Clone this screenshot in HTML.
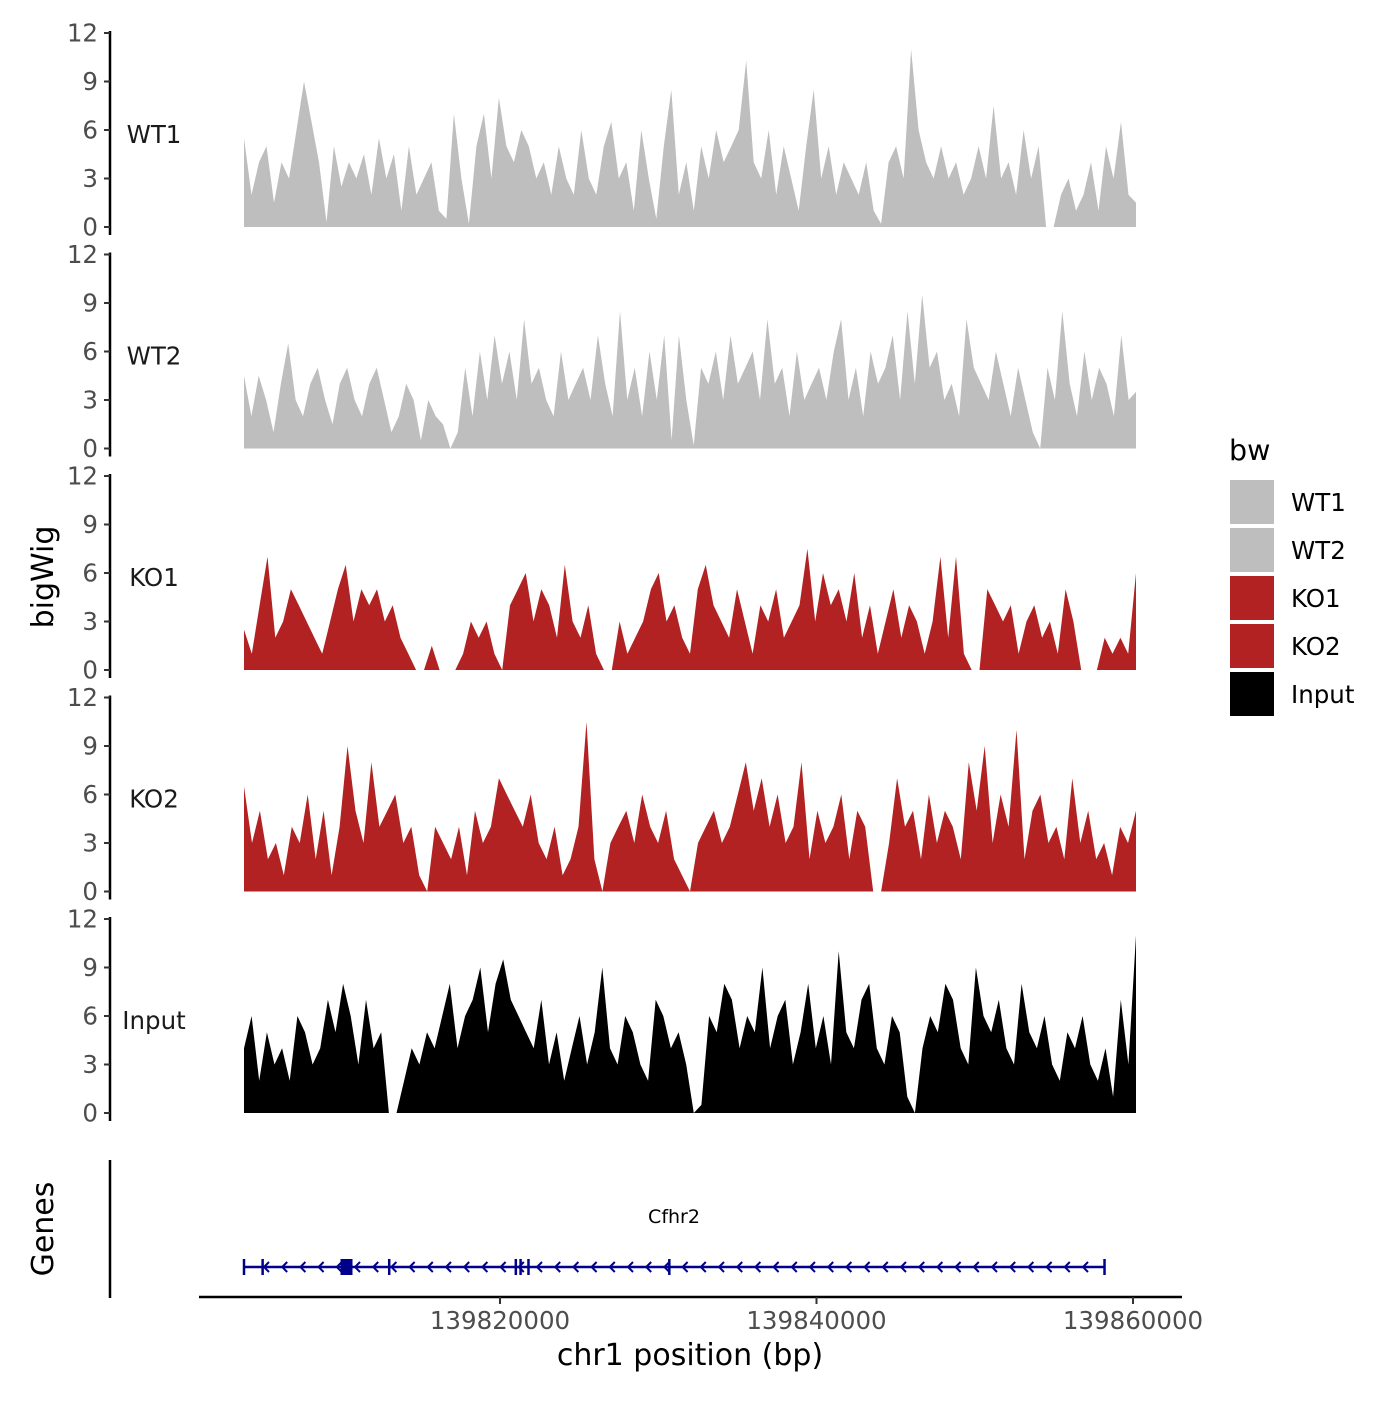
<!DOCTYPE html>
<html><head><meta charset="utf-8"><style>
body{margin:0;background:#fff}
svg text{font-family:"DejaVu Sans","Liberation Sans",sans-serif}
</style></head><body>
<svg id="chart" width="1400" height="1400" xmlns="http://www.w3.org/2000/svg">
<rect width="1400" height="1400" fill="#fff"/>
<g id="panels"></g>
<text x="0" y="0" transform="translate(53,577) rotate(-90)" text-anchor="middle" font-size="30" fill="#000">bigWig</text>
<text x="0" y="0" transform="translate(53,1229) rotate(-90)" text-anchor="middle" font-size="30" fill="#000">Genes</text>
<line x1="110" y1="1160" x2="110" y2="1298" stroke="#000" stroke-width="2.5"/>
<line x1="199" y1="1297" x2="1182" y2="1297" stroke="#000" stroke-width="2.5"/>
<g id="xticks"></g>
<text x="690" y="1365" text-anchor="middle" font-size="30" fill="#000">chr1 position (bp)</text>
<g id="gene"></g>
<g id="legend">
<text x="1229" y="460" font-size="28.5" fill="#000">bw</text>
</g>
</svg>
<script>
const seriesNames = ["WT1","WT2","KO1","KO2","Input"];
const seriesColors = ["#bebebe","#bebebe","#b22222","#b22222","#000000"];
const yTicks = [0,3,6,9,12];
const xTickValues = [139820000,139840000,139860000];
const xStartBp = 139803823, xEndBp = 139860190;
const wt1 = [5.5,2,4,5,1.5,4,3,6,9,6.5,4,0.3,5,2.5,4,3,4.5,2,5.5,3,4.5,1,5,2,3,4,1,0.5,7,3,0.2,5,7,3,8,5,4,6,5,3,4,2,5,3,2,6,3,2,5,6.5,3,4,1,6,3,0.5,5,8.5,2,4,1,5,3,6,4,5,6,10.3,4,3,6,2,5,3,1,5,8.5,3,5,2,4,3,2,4,1,0.2,4,5,3,11,6,4,3,5,3,4,2,3,5,3,7.5,3,4,2,6,3,5,0,0,2,3,1,2,4,1,5,3,6.5,2,1.5];
const wt2 = [4.5,2,4.5,3,1,4,6.5,3,2,4,5,3,1.5,4,5,3,2,4,5,3,1,2,4,3,0.5,3,2,1.5,0,1,5,2,6,3,7,4,6,3,8,4,5,3,2,6,3,4,5,3,7,4,2,8.5,3,5,2,6,3,7,0.5,7,3,0.2,5,4,6,3,7,4,5,6,3,8,4,5,2,6,3,4,5,3,6,8,3,5,2,6,4,5,7,3,8.5,4,9.5,5,6,3,4,2,8,5,4,3,6,4,2,5,3,1,0,5,3,8.5,4,2,6,3,5,4,2,7,3,3.5];
const ko1 = [2.5,1,4,7,2,3,5,4,3,2,1,3,5,6.5,3,5,4,5,3,4,2,1,0,0,1.5,0,0,0,1,3,2,3,1,0,4,5,6,3,5,4,2,6.5,3,2,4,1,0,0,3,1,2,3,5,6,3,4,2,1,5,6.5,4,3,2,5,3,1,4,3,5,2,3,4,7.5,3,6,4,5,3,6,2,4,1,3,5,2,4,3,1,3,7,2,7,1,0,0,5,4,3,4,1,3,4,2,3,1,5,3,0,0,0,2,1,2,1,6];
const ko2 = [6.5,3,5,2,3,1,4,3,6,2,5,1,4,9,5,3,8,4,5,6,3,4,1,0,4,3,2,4,1,5,3,4,7,6,5,4,6,3,2,4,1,2,4,10.5,2,0,3,4,5,3,6,4,3,5,2,1,0,3,4,5,3,4,6,8,5,7,4,6,3,4,8,2,5,3,4,6,2,5,4,0,0,3,7,4,5,2,6,3,5,4,2,8,5,9,3,6,4,10,2,5,6,3,4,2,7,3,5,2,3,1,4,3,5];
const input = [4,6,2,5,3,4,2,6,5,3,4,7,5,8,6,3,7,4,5,0,0,2,4,3,5,4,6,8,4,6,7,9,5,8,9.5,7,6,5,4,7,3,5,2,4,6,3,5,9,4,3,6,5,3,2,7,6,4,5,3,0,0.5,6,5,8,7,4,6,5,9,4,6,7,3,5,8,4,6,3,10,5,4,7,8,4,3,6,5,1,0,4,6,5,8,7,4,3,9,6,5,7,4,3,8,5,4,6,3,2,5,4,6,3,2,4,1,7,3,11];
const allSeries = [wt1,wt2,ko1,ko2,input];
const geneStartBp = 139803823, geneEndBp = 139858200;
const geneExonsBp = [139803823,139805000,139813000,139821000,139821300,139821800,139830700,139858200];
const geneBigExonBp = 139810300;

const NS="http://www.w3.org/2000/svg";
function mk(t,a,p){const e=document.createElementNS(NS,t);for(const k in a)e.setAttribute(k,a[k]);p.appendChild(e);return e;}
function xScale(bp){return 500+(bp-139820000)*(316.5/20000);}
const panelZero=[227,448.5,670,891.5,1113];
const PH=194;
const panels=document.getElementById('panels');
allSeries.forEach((vals,s)=>{
  const y0=panelZero[s];
  const yS=v=>y0-v*PH/12;
  const g=mk('g',{},panels);
  
  
  const x0=xScale(xStartBp), x1=xScale(xEndBp);
  const n=vals.length;
  let d='M'+x0+','+y0;
  vals.forEach((v,i)=>{d+=' L'+(x0+(x1-x0)*i/(n-1)).toFixed(1)+','+yS(v).toFixed(1);});
  d+=' L'+x1+','+y0+' Z';
  const a=mk('path',{d:d,fill:seriesColors[s]},g);
  
  
  const ax=mk('line',{x1:110,y1:yS(12)-2,x2:110,y2:y0+8,stroke:'#000','stroke-width':2.5},g);
  
  
  yTicks.forEach(t=>{
    mk('line',{x1:104,y1:yS(t),x2:110,y2:yS(t),stroke:'#333','stroke-width':2},g);
    const tx=mk('text',{x:98,y:yS(t)+8.5,'text-anchor':'end','font-size':24.5,fill:'#4d4d4d'},g);
    tx.textContent=t;
    
    
  });
  const lb=mk('text',{x:154,y:yS(6)+13,'text-anchor':'middle','font-size':24.5,fill:'#1a1a1a'},g);
  lb.textContent=seriesNames[s];
  
  
});
const xt=document.getElementById('xticks');
xTickValues.forEach(v=>{
  const x=xScale(v);
  mk('line',{x1:x,y1:1297,x2:x,y2:1304,stroke:'#333','stroke-width':2},xt);
  const t=mk('text',{x:x,y:1329,'text-anchor':'middle','font-size':24.5,fill:'#4d4d4d'},xt);
  t.textContent=v;
  
  
});
const gg=document.getElementById('gene');


const gy=1267, gx0=xScale(geneStartBp), gx1=xScale(geneEndBp);
mk('line',{x1:gx0,y1:gy,x2:gx1,y2:gy,stroke:'#00008b','stroke-width':2.5},gg);
for(let x=gx0+20;x<gx1-8;x+=18.2){mk('path',{d:`M${x+5},${gy-5} L${x},${gy} L${x+5},${gy+5}`,stroke:'#00008b','stroke-width':2,fill:'none'},gg);}
geneExonsBp.forEach(b=>{const x=xScale(b);mk('line',{x1:x,y1:gy-8,x2:x,y2:gy+8,stroke:'#00008b','stroke-width':2.5},gg);});
const bx=xScale(geneBigExonBp);
mk('rect',{x:bx-6,y:gy-8,width:12,height:16,fill:'#00008b'},gg);
const gl=mk('text',{x:674,y:1223,'text-anchor':'middle','font-size':19,fill:'#000'},gg);
gl.textContent='Cfhr2';
const lg=document.getElementById('legend');
seriesNames.forEach((nm,i)=>{
  const y=480+i*48;
  const r=mk('rect',{x:1230,y:y,width:44,height:44,fill:seriesColors[i]},lg);
  
  
  const t=mk('text',{x:1291,y:y+31,'font-size':24.5,fill:'#000'},lg);
  t.textContent=nm;
  
  
});
</script>
</body></html>
